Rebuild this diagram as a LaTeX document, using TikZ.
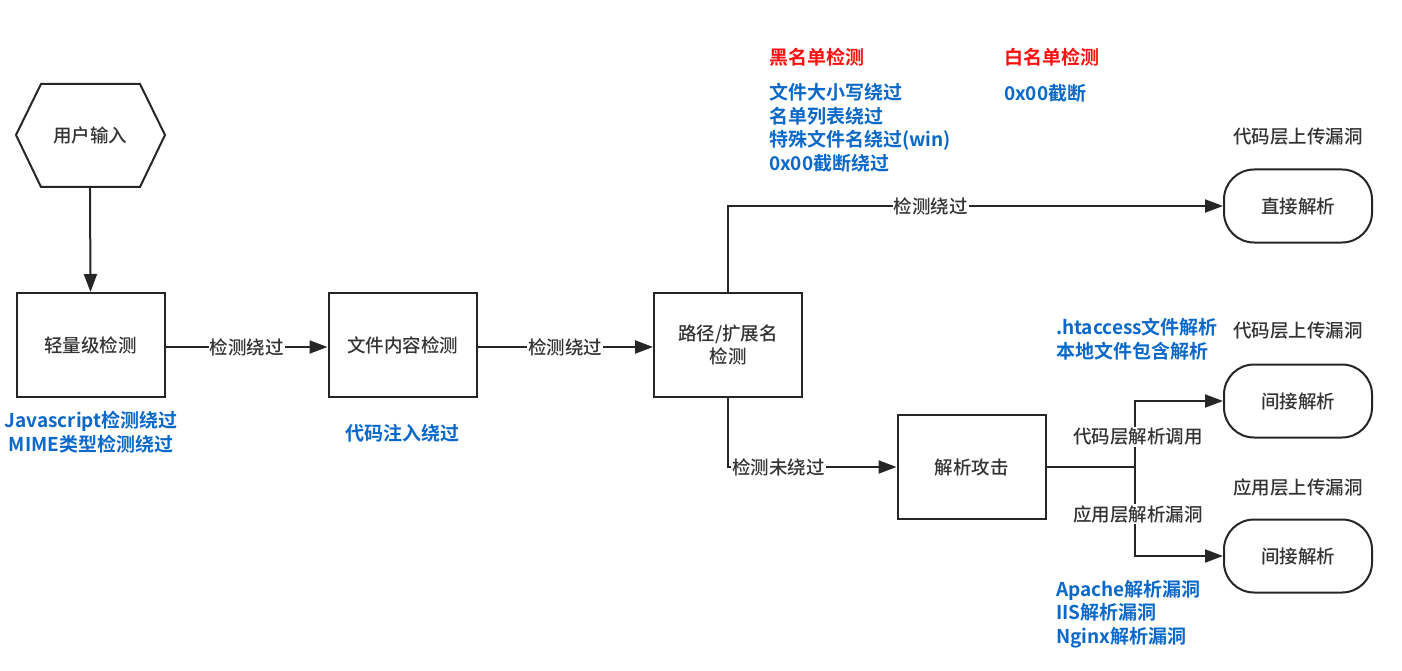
\documentclass[tikz,border=0pt]{standalone}
\usepackage{fontspec}
\setmainfont{Noto Sans CJK SC}[BoldFont={Noto Sans CJK SC Bold}]
\newfontfamily\medfont{Noto Sans CJK SC Medium}
\usetikzlibrary{arrows.meta,shapes.geometric}
\definecolor{txt}{HTML}{333333}
\definecolor{bl}{HTML}{0A68C8}
\definecolor{rd}{HTML}{FF1010}
\begin{document}
\begin{tikzpicture}[x=1pt,y=-1pt,
  line width=2pt,
  every node/.style={font=\medfont\fontsize{18.5}{23}\selectfont, text=txt},
  boxn/.style={draw=black!85, minimum width=148pt, minimum height=104pt, inner sep=0pt, align=center},
  term/.style={draw=black!85, rounded corners=30pt, minimum width=148pt, minimum height=73pt, inner sep=0pt},
  arr/.style={draw=black!85, -{Triangle[length=18pt,width=13pt]}},
  ln/.style={draw=black!85},
  lab/.style={fill=white, inner sep=1pt},
  bnote/.style={text=bl, font=\fontsize{19}{23.7}\selectfont\bfseries, inner sep=0pt},
  rnote/.style={text=rd, font=\fontsize{19}{23}\selectfont\bfseries, inner sep=0pt},
]
\useasboundingbox (0,0) rectangle (1402,671);
% hexagon drawn directly
\node (in) at (90,135) {用户输入};
\draw[draw=black!85] (16,135) -- (41,84) -- (140,84) -- (165,135) -- (140,187) -- (41,187) -- cycle;
\coordinate (inb) at (90,187);

\node[boxn] (b1) at (90.5,345) {轻量级检测};
\node[boxn] (b2) at (402.5,345) {文件内容检测};
\node[boxn] (b3) at (728,345) {路径/扩展名\\检测};
\node[boxn] (b4) at (971.5,467) {解析攻击};
\node[term] (t1) at (1298,206) {直接解析};
\node[term] (t2) at (1298,401) {间接解析};
\node[term] (t3) at (1298,556) {间接解析};

\draw[arr] (inb) -- (b1.north);
\draw[arr] (b1.east |- 0,347) -- node[lab]{检测绕过} (b2.west |- 0,347);
\draw[arr] (b2.east |- 0,347) -- node[lab]{检测绕过} (b3.west |- 0,347);
\draw[arr] (b3.north) |- node[lab, pos=0.705]{检测绕过} (t1.west);
\draw[arr] (b3.south) |- (b4.west);
\node[lab, anchor=west] (l4) at (730,467) {检测未绕过};
\coordinate (br) at (1135,467);
\draw[ln] (b4.east) -- (br);
\draw[arr] (br) |- (t2.west);
\draw[arr] (br) |- (t3.west);
\node[lab] (l5) at (1138,437) {代码层解析调用};
\node[lab] (l6) at (1138,514) {应用层解析漏洞};

\node (c1) at (1298,137) {代码层上传漏洞};
\node (c2) at (1298,331) {代码层上传漏洞};
\node (c3) at (1298,487) {应用层上传漏洞};

\node[bnote, align=center] (n1) at (91,432) {Javascript检测绕过\\MIME类型检测绕过};
\node[bnote] (n2) at (402,433) {代码注入绕过};
\node[rnote, anchor=west] (r1) at (768,57) {黑名单检测};
\node[rnote, anchor=west] (r2) at (1003,57) {白名单检测};
\node[bnote, anchor=north west, align=left] (n3) at (768,82) {文件大小写绕过\\名单列表绕过\\特殊文件名绕过(win)\\0x00截断绕过};
\node[bnote, anchor=west] (n4) at (1003,93) {0x00截断};
\node[bnote, anchor=north west, align=left] (n5) at (1055,317) {.htaccess文件解析\\本地文件包含解析};
\node[bnote, anchor=north west, align=left] (n6) at (1055,579) {Apache解析漏洞\\IIS解析漏洞\\Nginx解析漏洞};
\end{tikzpicture}
\end{document}
